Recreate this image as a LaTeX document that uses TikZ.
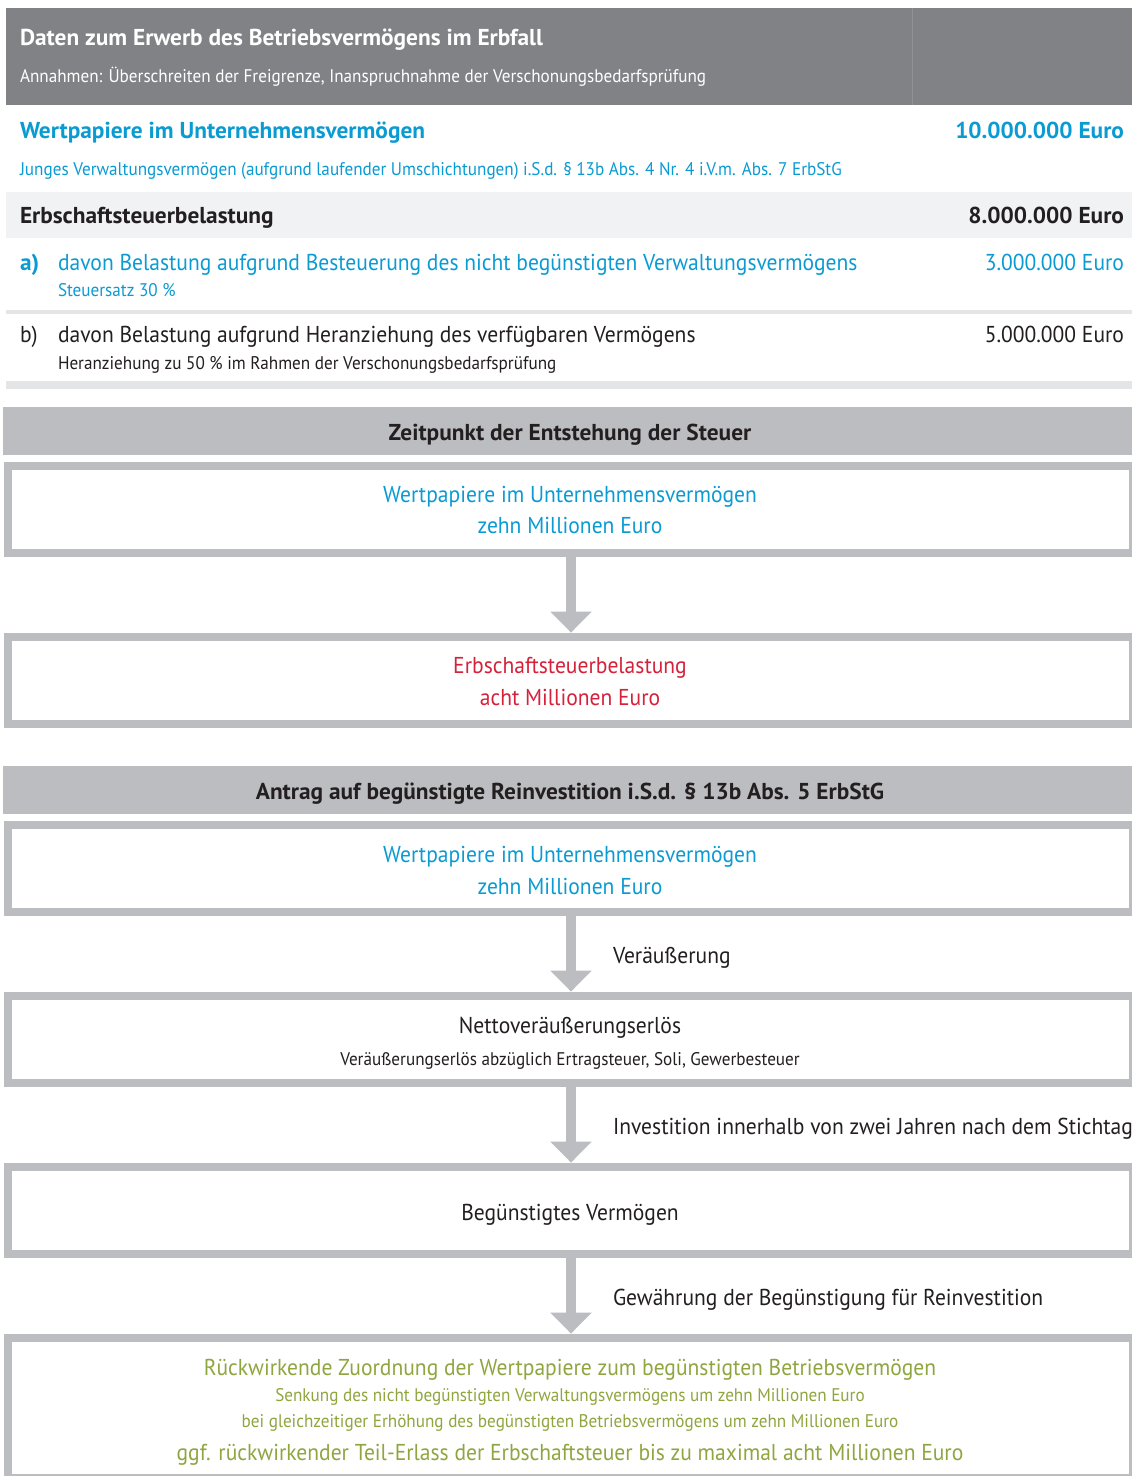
\documentclass[tikz,border=0pt]{standalone}
\usepackage{fontspec}
\setmainfont[FakeStretch=0.937, BoldFeatures={FakeStretch=1.015}]{PT Sans}
\usetikzlibrary{arrows.meta}
\definecolor{hdrgray}{HTML}{818286}
\definecolor{rowgray}{HTML}{F1F2F4}
\definecolor{sepgray}{HTML}{E4E5E7}
\definecolor{boxgray}{HTML}{BCBDC1}
\definecolor{txtblue}{HTML}{0B9BD3}
\definecolor{txtred}{HTML}{D6213B}
\definecolor{txtgreen}{HTML}{8FA640}
\definecolor{txtblack}{HTML}{231F20}
\newcommand\szHead{\fontsize{11.5}{13}\selectfont}
\newcommand\szBig{\fontsize{11.5}{13}\selectfont}
\newcommand\szMid{\fontsize{11.5}{13}\selectfont}
\newcommand\szSmall{\fontsize{9.15}{11}\selectfont}
\begin{document}
\begin{tikzpicture}[x=0.5pt,y=-0.5pt,
  txt/.style={inner sep=0pt, outer sep=0pt, text=txtblack},
  boxouter/.style={fill=boxgray, inner sep=0pt, minimum width=564pt, minimum height=47.5pt},
  flowarrow/.style={draw=boxgray, line width=5pt, -{Triangle[width=20pt,length=10.5pt]}}
]
\useasboundingbox (0,0) rectangle (1132,1476);
\fill[white] (0,0) rectangle (1132,1476);

% ---------- table ----------
\fill[hdrgray] (6,8) rectangle (1132,105);
\draw[hdrgray!88!white, line width=0.4pt] (912,8) -- (912,105);
\node[txt, anchor=base west, text=white, font=\bfseries\szHead] (t0) at (20,46) {Daten zum Erwerb des Betriebsvermögens im Erbfall};
\node[txt, anchor=base west, text=white, font=\szSmall] (t0s) at (20,83) {Annahmen: Überschreiten der Freigrenze, Inanspruchnahme der Verschonungsbedarfsprüfung};

\node[txt, anchor=base west, text=txtblue, font=\bfseries\szHead] (r1) at (20,139) {Wertpapiere im Unternehmensvermögen};
\node[txt, anchor=base east, text=txtblue, font=\bfseries\szHead] (r1v) at (1124,139) {10.000.000 Euro};
\node[txt, anchor=base west, text=txtblue, font=\szSmall] (r1s) at (20,176) {Junges Verwaltungsvermögen (aufgrund laufender Umschichtungen) i.S.d. § 13b Abs. 4 Nr. 4 i.V.m. Abs. 7 ErbStG};

\fill[rowgray] (6,192) rectangle (1132,238);
\node[txt, anchor=base west, font=\bfseries\szHead] (r2) at (20,224) {Erbschaftsteuerbelastung};
\node[txt, anchor=base east, font=\bfseries\szHead] (r2v) at (1124,224) {8.000.000 Euro};

\node[txt, anchor=base west, text=txtblue, font=\bfseries\szMid] (ra) at (20,271) {a)};
\node[txt, anchor=base west, text=txtblue, font=\szMid] (rat) at (58,271) {davon Belastung aufgrund Besteuerung des nicht begünstigten Verwaltungsvermögens};
\node[txt, anchor=base west, text=txtblue, font=\szSmall] (ras) at (58,297) {Steuersatz 30 \%};
\node[txt, anchor=base east, text=txtblue, font=\szMid] (rav) at (1124,271) {3.000.000 Euro};
\fill[sepgray] (6,310) rectangle (1132,314);

\node[txt, anchor=base west, font=\szMid] (rb) at (20,343) {b)};
\node[txt, anchor=base west, font=\szMid] (rbt) at (58,343) {davon Belastung aufgrund Heranziehung des verfügbaren Vermögens};
\node[txt, anchor=base west, font=\szSmall] (rbs) at (58,370) {Heranziehung zu 50 \% im Rahmen der Verschonungsbedarfsprüfung};
\node[txt, anchor=base east, font=\szMid] (rbv) at (1124,343) {5.000.000 Euro};
\fill[sepgray] (6,381) rectangle (1132,389);

% ---------- section 1 ----------
\fill[boxgray] (3,407) rectangle (1132,455);
\node[txt, anchor=base, font=\bfseries\szHead] (h1) at (570,440) {Zeitpunkt der Entstehung der Steuer};

\node[boxouter] (b1) at (568,509.5) {};
\fill[white] ([xshift=4pt,yshift=-4pt]b1.north west) rectangle ([xshift=-1.5pt,yshift=4pt]b1.south east);
\node[txt, anchor=base, text=txtblue, font=\szBig] (b1a) at (570,502) {Wertpapiere im Unternehmensvermögen};
\node[txt, anchor=base, text=txtblue, font=\szBig] (b1b) at (570,533) {zehn Millionen Euro};

\node[boxouter] (b2) at (568,680.5) {};
\fill[white] ([xshift=4pt,yshift=-4pt]b2.north west) rectangle ([xshift=-1.5pt,yshift=4pt]b2.south east);
\node[txt, anchor=base, text=txtred, font=\szBig] (b2a) at (570,673) {Erbschaftsteuerbelastung};
\node[txt, anchor=base, text=txtred, font=\szBig] (b2b) at (570,705) {acht Millionen Euro};

\draw[flowarrow] ([xshift=1.5pt]b1.south) -- ([xshift=1.5pt]b2.north);

% ---------- section 2 ----------
\fill[boxgray] (3,766) rectangle (1132,814);
\node[txt, anchor=base, font=\bfseries\szHead] (h2) at (570,799) {Antrag auf begünstigte Reinvestition i.S.d. § 13b Abs. 5 ErbStG};

\node[boxouter] (b3) at (568,868.5) {};
\fill[white] ([xshift=4pt,yshift=-4pt]b3.north west) rectangle ([xshift=-1.5pt,yshift=4pt]b3.south east);
\node[txt, anchor=base, text=txtblue, font=\szBig] (b3a) at (570,862) {Wertpapiere im Unternehmensvermögen};
\node[txt, anchor=base, text=txtblue, font=\szBig] (b3b) at (570,894) {zehn Millionen Euro};

\node[boxouter] (b4) at (568,1039.5) {};
\fill[white] ([xshift=4pt,yshift=-4pt]b4.north west) rectangle ([xshift=-1.5pt,yshift=4pt]b4.south east);
\node[txt, anchor=base, font=\szBig] (b4a) at (570,1033) {Nettoveräußerungserlös};
\node[txt, anchor=base, font=\szSmall] (b4b) at (570,1065) {Veräußerungserlös abzüglich Ertragsteuer, Soli, Gewerbesteuer};

\node[boxouter] (b5) at (568,1210.5) {};
\fill[white] ([xshift=4pt,yshift=-4pt]b5.north west) rectangle ([xshift=-1.5pt,yshift=4pt]b5.south east);
\node[txt, anchor=base, font=\szBig] (b5a) at (570,1220) {Begünstigtes Vermögen};

\node[boxouter, minimum height=72pt] (b6) at (568,1406) {};
\fill[white] ([xshift=4pt,yshift=-4pt]b6.north west) rectangle (1129,1474);
\node[txt, anchor=base, text=txtgreen, font=\szBig] (b6a) at (570,1375) {Rückwirkende Zuordnung der Wertpapiere zum begünstigten Betriebsvermögen};
\node[txt, anchor=base, text=txtgreen, font=\szSmall] (b6b) at (570,1401) {Senkung des nicht begünstigten Verwaltungsvermögens um zehn Millionen Euro};
\node[txt, anchor=base, text=txtgreen, font=\szSmall] (b6c) at (570,1427) {bei gleichzeitiger Erhöhung des begünstigten Betriebsvermögens um zehn Millionen Euro};
\node[txt, anchor=base, text=txtgreen, font=\szBig] (b6d) at (570,1460) {ggf. rückwirkender Teil-Erlass der Erbschaftsteuer bis zu maximal acht Millionen Euro};

\draw[flowarrow] ([xshift=1.5pt]b3.south) -- ([xshift=1.5pt]b4.north);
\draw[flowarrow] ([xshift=1.5pt]b4.south) -- ([xshift=1.5pt]b5.north);
\draw[flowarrow] ([xshift=1.5pt]b5.south) -- ([xshift=1.5pt]b6.north);

\node[txt, anchor=base west, font=\szMid] (l1) at (613,963) {Veräußerung};
\node[txt, anchor=base west, font=\szMid] (l2) at (613,1134) {Investition innerhalb von zwei Jahren nach dem Stichtag};
\node[txt, anchor=base west, font=\szMid] (l3) at (613,1305) {Gewährung der Begünstigung für Reinvestition};
\end{tikzpicture}
\end{document}
